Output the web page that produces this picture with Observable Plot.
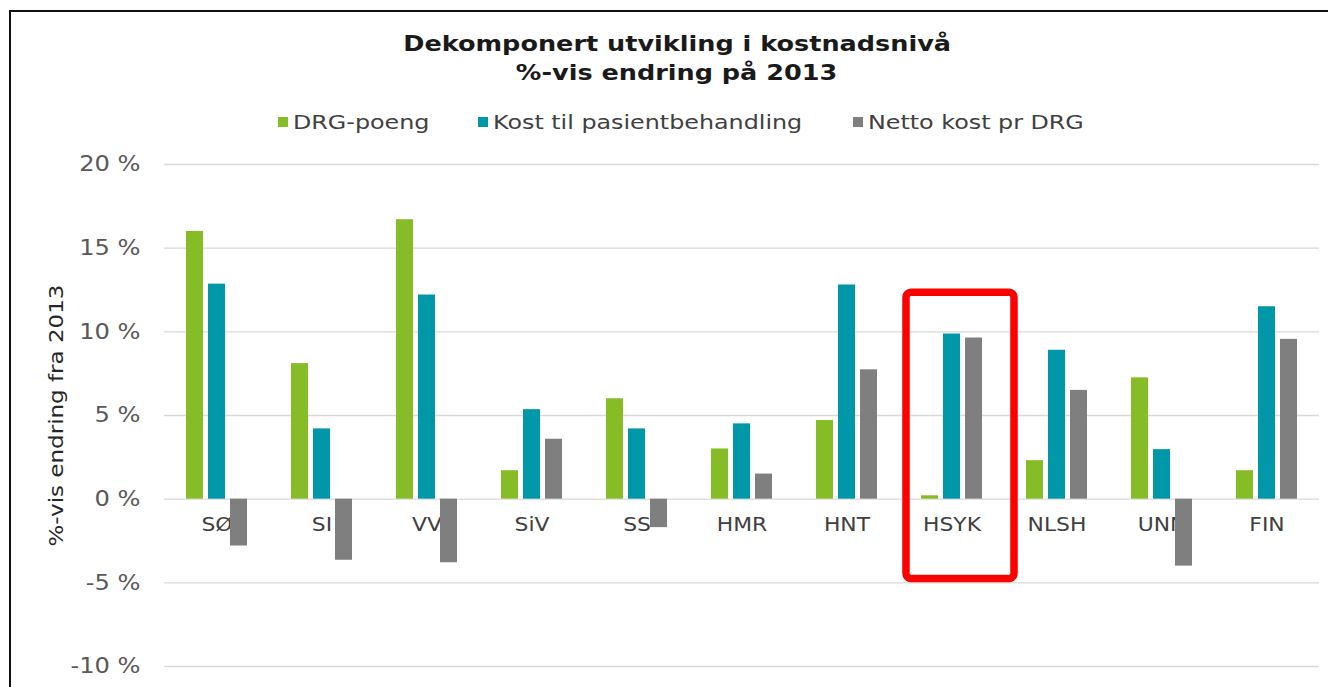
<!DOCTYPE html>
<html>
<head>
<meta charset="utf-8">
<script src="https://cdn.jsdelivr.net/npm/d3@7"></script>
<script src="https://cdn.jsdelivr.net/npm/@observablehq/plot@0.6"></script>
<style>
  html, body { margin: 0; padding: 0; background: #fff; overflow: hidden; width: 1328px; height: 687px; }
  body { position: relative; font-family: "DejaVu Sans", Verdana, sans-serif; }
  #frame { position: absolute; left: 9px; top: 10px; width: 1400px; height: 800px;
           border-top: 2px solid #111; border-left: 2px solid #111; box-sizing: border-box; }
  .title { position: absolute; left: 0; width: 1354px; text-align: center; font-weight: bold;
           font-size: 22px; line-height: 26px; color: #1a1a1a; white-space: nowrap; }
  .title span { display: inline-block; transform: scaleX(1.16); }
  .leg-item { position: absolute; top: 110px; height: 24px; white-space: nowrap; }
  .leg-sw { position: absolute; top: 7px; left: 0; width: 10px; height: 10px; }
  .leg-tx { position: absolute; left: 15px; top: 0; font-size: 20px; line-height: 24px; color: #404040;
            transform: scaleX(1.19); transform-origin: left center; }
  #chart { position: absolute; left: 0; top: 0; }
</style>
</head>
<body>
<div id="frame"></div>
<div class="title" style="top:31px"><span id="t1"></span></div>
<div class="title" style="top:60px"><span id="t2"></span></div>
<div id="legend"></div>
<div id="chart"></div>
<script>
// ---- data ----
const titleLines = ["Dekomponert utvikling i kostnadsnivå", "%-vis endring på 2013"];
const yLabel = "%-vis endring fra 2013";
const categories = ["SØ", "SI", "VV", "SiV", "SS", "HMR", "HNT", "HSYK", "NLSH", "UNN", "FIN"];
const series = ["DRG-poeng", "Kost til pasientbehandling", "Netto kost pr DRG"];
const drgPoeng    = [16.0, 8.1, 16.7, 1.7, 6.0, 3.0, 4.7, 0.2, 2.3, 7.25, 1.7];
const kostPasient = [12.85, 4.2, 12.2, 5.35, 4.2, 4.5, 12.8, 9.87, 8.9, 2.96, 11.5];
const nettoKost   = [-2.8, -3.65, -3.8, 3.58, -1.7, 1.5, 7.73, 9.63, 6.5, -4.0, 9.55];
const yTicks = [-10, -5, 0, 5, 10, 15, 20];
const colors = ["#86bc25", "#0097a9", "#7f7f7f"];
const highlight = [{cat: "HSYK", low: -4.77, high: 12.34}];

// ---- layout (not data) ----
const legendX = [278, 478, 853];

document.getElementById("t1").textContent = titleLines[0];
document.getElementById("t2").textContent = titleLines[1];

const legend = document.getElementById("legend");
series.forEach((s, i) => {
  const it = document.createElement("div");
  it.className = "leg-item";
  it.style.left = legendX[i] + "px";
  const sw = document.createElement("div");
  sw.className = "leg-sw";
  sw.style.background = colors[i];
  const tx = document.createElement("div");
  tx.className = "leg-tx";
  tx.textContent = s;
  it.append(sw, tx);
  legend.append(it);
});

const valuesBySeries = [drgPoeng, kostPasient, nettoKost];
const data = [];
categories.forEach((c, j) => series.forEach((s, i) => data.push({cat: c, series: s, value: valuesBySeries[i][j]})));

const plot = Plot.plot({
  width: 1328,
  height: 700,
  marginTop: 164,
  marginBottom: 34,
  marginLeft: 162,
  marginRight: 8,
  style: {fontFamily: '"DejaVu Sans", Verdana, sans-serif', background: "transparent", overflow: "visible"},
  fx: {domain: categories, padding: 0, axis: null},
  x: {domain: series, paddingInner: 0.22, paddingOuter: 0.9, axis: null},
  y: {domain: [-10, 20], axis: null},
  color: {domain: series, range: colors},
  marks: [
    Plot.gridY(yTicks, {stroke: "#d9d9d9", strokeOpacity: 1, strokeWidth: 1.3}),
    Plot.axisY(yTicks, {tickSize: 0, tickPadding: 24, tickFormat: d => `${d} %`, fontSize: 21, fill: "#595959", label: null}),
    Plot.text([yLabel], {fx: () => categories[0], frameAnchor: "left", textAnchor: "middle", text: d => d, rotate: -90, dx: -108, fontSize: 20, fill: "#262626"}),
    Plot.text(categories, {fx: d => d, y: () => 0, text: d => d, dy: 26, fontSize: 19, fill: "#404040"}),
    Plot.barY(data, {fx: "cat", x: "series", y: "value", fill: "series"}),
    Plot.barY(highlight, {fx: "cat", y1: "low", y2: "high", fill: "none", stroke: "#ff0000", strokeWidth: 7.5, rx: 5, insetLeft: 7, insetRight: -10})
  ]
});
document.getElementById("chart").append(plot);

// widen glyphs to match the reference's wide typeface
plot.querySelectorAll("text").forEach(t => {
  const len = t.getComputedTextLength();
  if (len > 0) {
    t.setAttribute("textLength", len * 1.15);
    t.setAttribute("lengthAdjust", "spacingAndGlyphs");
  }
});
</script>
</body>
</html>
